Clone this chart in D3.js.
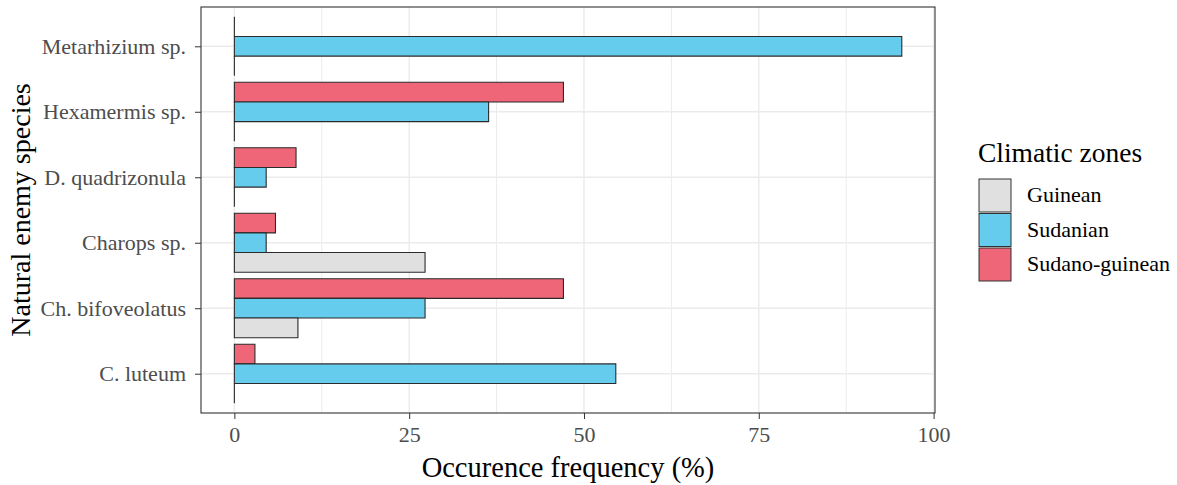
<!DOCTYPE html>
<html><head><meta charset="utf-8">
<script src="https://cdn.jsdelivr.net/npm/d3@7"></script>
<style>body{margin:0;background:#fff}svg{display:block}</style>
</head><body>
<script>
const species = ["Metarhizium sp.","Hexamermis sp.","D. quadrizonula","Charops sp.","Ch. bifoveolatus","C. luteum"];
const zones = ["Sudano-guinean","Sudanian","Guinean"]; // top-to-bottom within each group
const legendZones = ["Guinean","Sudanian","Sudano-guinean"];
const guinean = [0, 0, 0, 27.27, 9.09, 0];
const sudanian = [95.45, 36.36, 4.55, 4.55, 27.27, 54.55];
const sudanoGuinean = [0, 47.06, 8.82, 5.88, 47.06, 2.94];
const xTicks = [0, 25, 50, 75, 100];
const xMinor = [12.5, 37.5, 62.5, 87.5];
const colors = {"Guinean":"#E0E0E0","Sudanian":"#66CCEE","Sudano-guinean":"#EE6677"};

const W = 1177, H = 485;
const panel = {l:201, r:935, t:7, b:413};
const svg = d3.select("body").append("svg").attr("width",W).attr("height",H)
  .style("font-family","'Liberation Serif','Times New Roman',serif");

const values = {"Guinean":guinean,"Sudanian":sudanian,"Sudano-guinean":sudanoGuinean};
const maxV = d3.max(sudanian);
const pad = maxV*0.05;
const x = d3.scaleLinear().domain([-pad, 100.2]).range([panel.l, panel.r]);
// discrete y with ggplot-like expansion of 0.6 units
const stepU = (panel.b - panel.t)/(species.length + 0.2);
const yC = s => panel.t + (0.6 + species.indexOf(s))*stepU;
const inner = d3.scaleBand().domain(zones).range([-0.45*stepU, 0.45*stepU]);

// grid
const g = svg.append("g");
g.selectAll(".minor").data(xMinor).join("line")
  .attr("x1",d=>x(d)).attr("x2",d=>x(d)).attr("y1",panel.t).attr("y2",panel.b)
  .attr("stroke","#EBEBEB").attr("stroke-width",1);
g.selectAll(".major").data(xTicks).join("line")
  .attr("x1",d=>x(d)).attr("x2",d=>x(d)).attr("y1",panel.t).attr("y2",panel.b)
  .attr("stroke","#EBEBEB").attr("stroke-width",1.4);
g.selectAll(".hmajor").data(species).join("line")
  .attr("x1",panel.l).attr("x2",panel.r).attr("y1",d=>yC(d)).attr("y2",d=>yC(d))
  .attr("stroke","#EBEBEB").attr("stroke-width",1.4);

// bars
const bars = [];
species.forEach((s,i)=>zones.forEach(z=>bars.push({s, z, v: values[z][i]})));
svg.append("g").selectAll("path").data(bars).join("path")
  .attr("d", d=>{
    const y0 = yC(d.s) + inner(d.z), y1 = y0 + inner.bandwidth();
    const x0 = x(0), x1 = x(d.v);
    return `M${x0},${y0}H${x1}V${y1}H${x0}Z`;
  })
  .attr("fill", d=>colors[d.z]).attr("stroke","#2b2b2b").attr("stroke-width",1.1);

// panel border
svg.append("rect").attr("x",panel.l).attr("y",panel.t).attr("width",panel.r-panel.l).attr("height",panel.b-panel.t)
  .attr("fill","none").attr("stroke","#333").attr("stroke-width",1.1);

// axes
const xAxis = svg.append("g").attr("transform",`translate(0,${panel.b})`)
  .call(d3.axisBottom(x).tickValues(xTicks).tickSize(6).tickPadding(7));
const yScaleAxis = d3.scalePoint().domain(species).range([yC(species[0]), yC(species[species.length-1])]);
const yAxis = svg.append("g").attr("transform",`translate(${panel.l},0)`)
  .call(d3.axisLeft(yScaleAxis).tickSize(6).tickPadding(9));
[xAxis,yAxis].forEach(a=>{
  a.select(".domain").remove();
  a.selectAll(".tick line").attr("stroke","#333");
  a.selectAll(".tick text").attr("fill","#4D4D4D").style("font-size","22px")
   .style("font-family","'Liberation Serif',serif");
});

// titles
svg.append("text").attr("x",(panel.l+panel.r)/2).attr("y",477).attr("text-anchor","middle")
  .style("font-size","28.5px").text("Occurence frequency (%)");
svg.append("text").attr("transform",`translate(30,${(panel.t+panel.b)/2}) rotate(-90)`)
  .attr("text-anchor","middle").style("font-size","28px").text("Natural enemy species");

// legend
const lg = svg.append("g").attr("transform","translate(979,0)");
lg.append("text").attr("x",-1).attr("y",162).style("font-size","27.5px").text("Climatic zones");
legendZones.forEach((z,i)=>{
  const yy = 179 + i*34.5;
  lg.append("rect").attr("x",0).attr("y",yy).attr("width",32).attr("height",33)
    .attr("fill",colors[z]).attr("stroke","#333").attr("stroke-width",1);
  lg.append("text").attr("x",48).attr("y",yy+23).style("font-size","22px").text(z);
});
</script>
</body></html>
